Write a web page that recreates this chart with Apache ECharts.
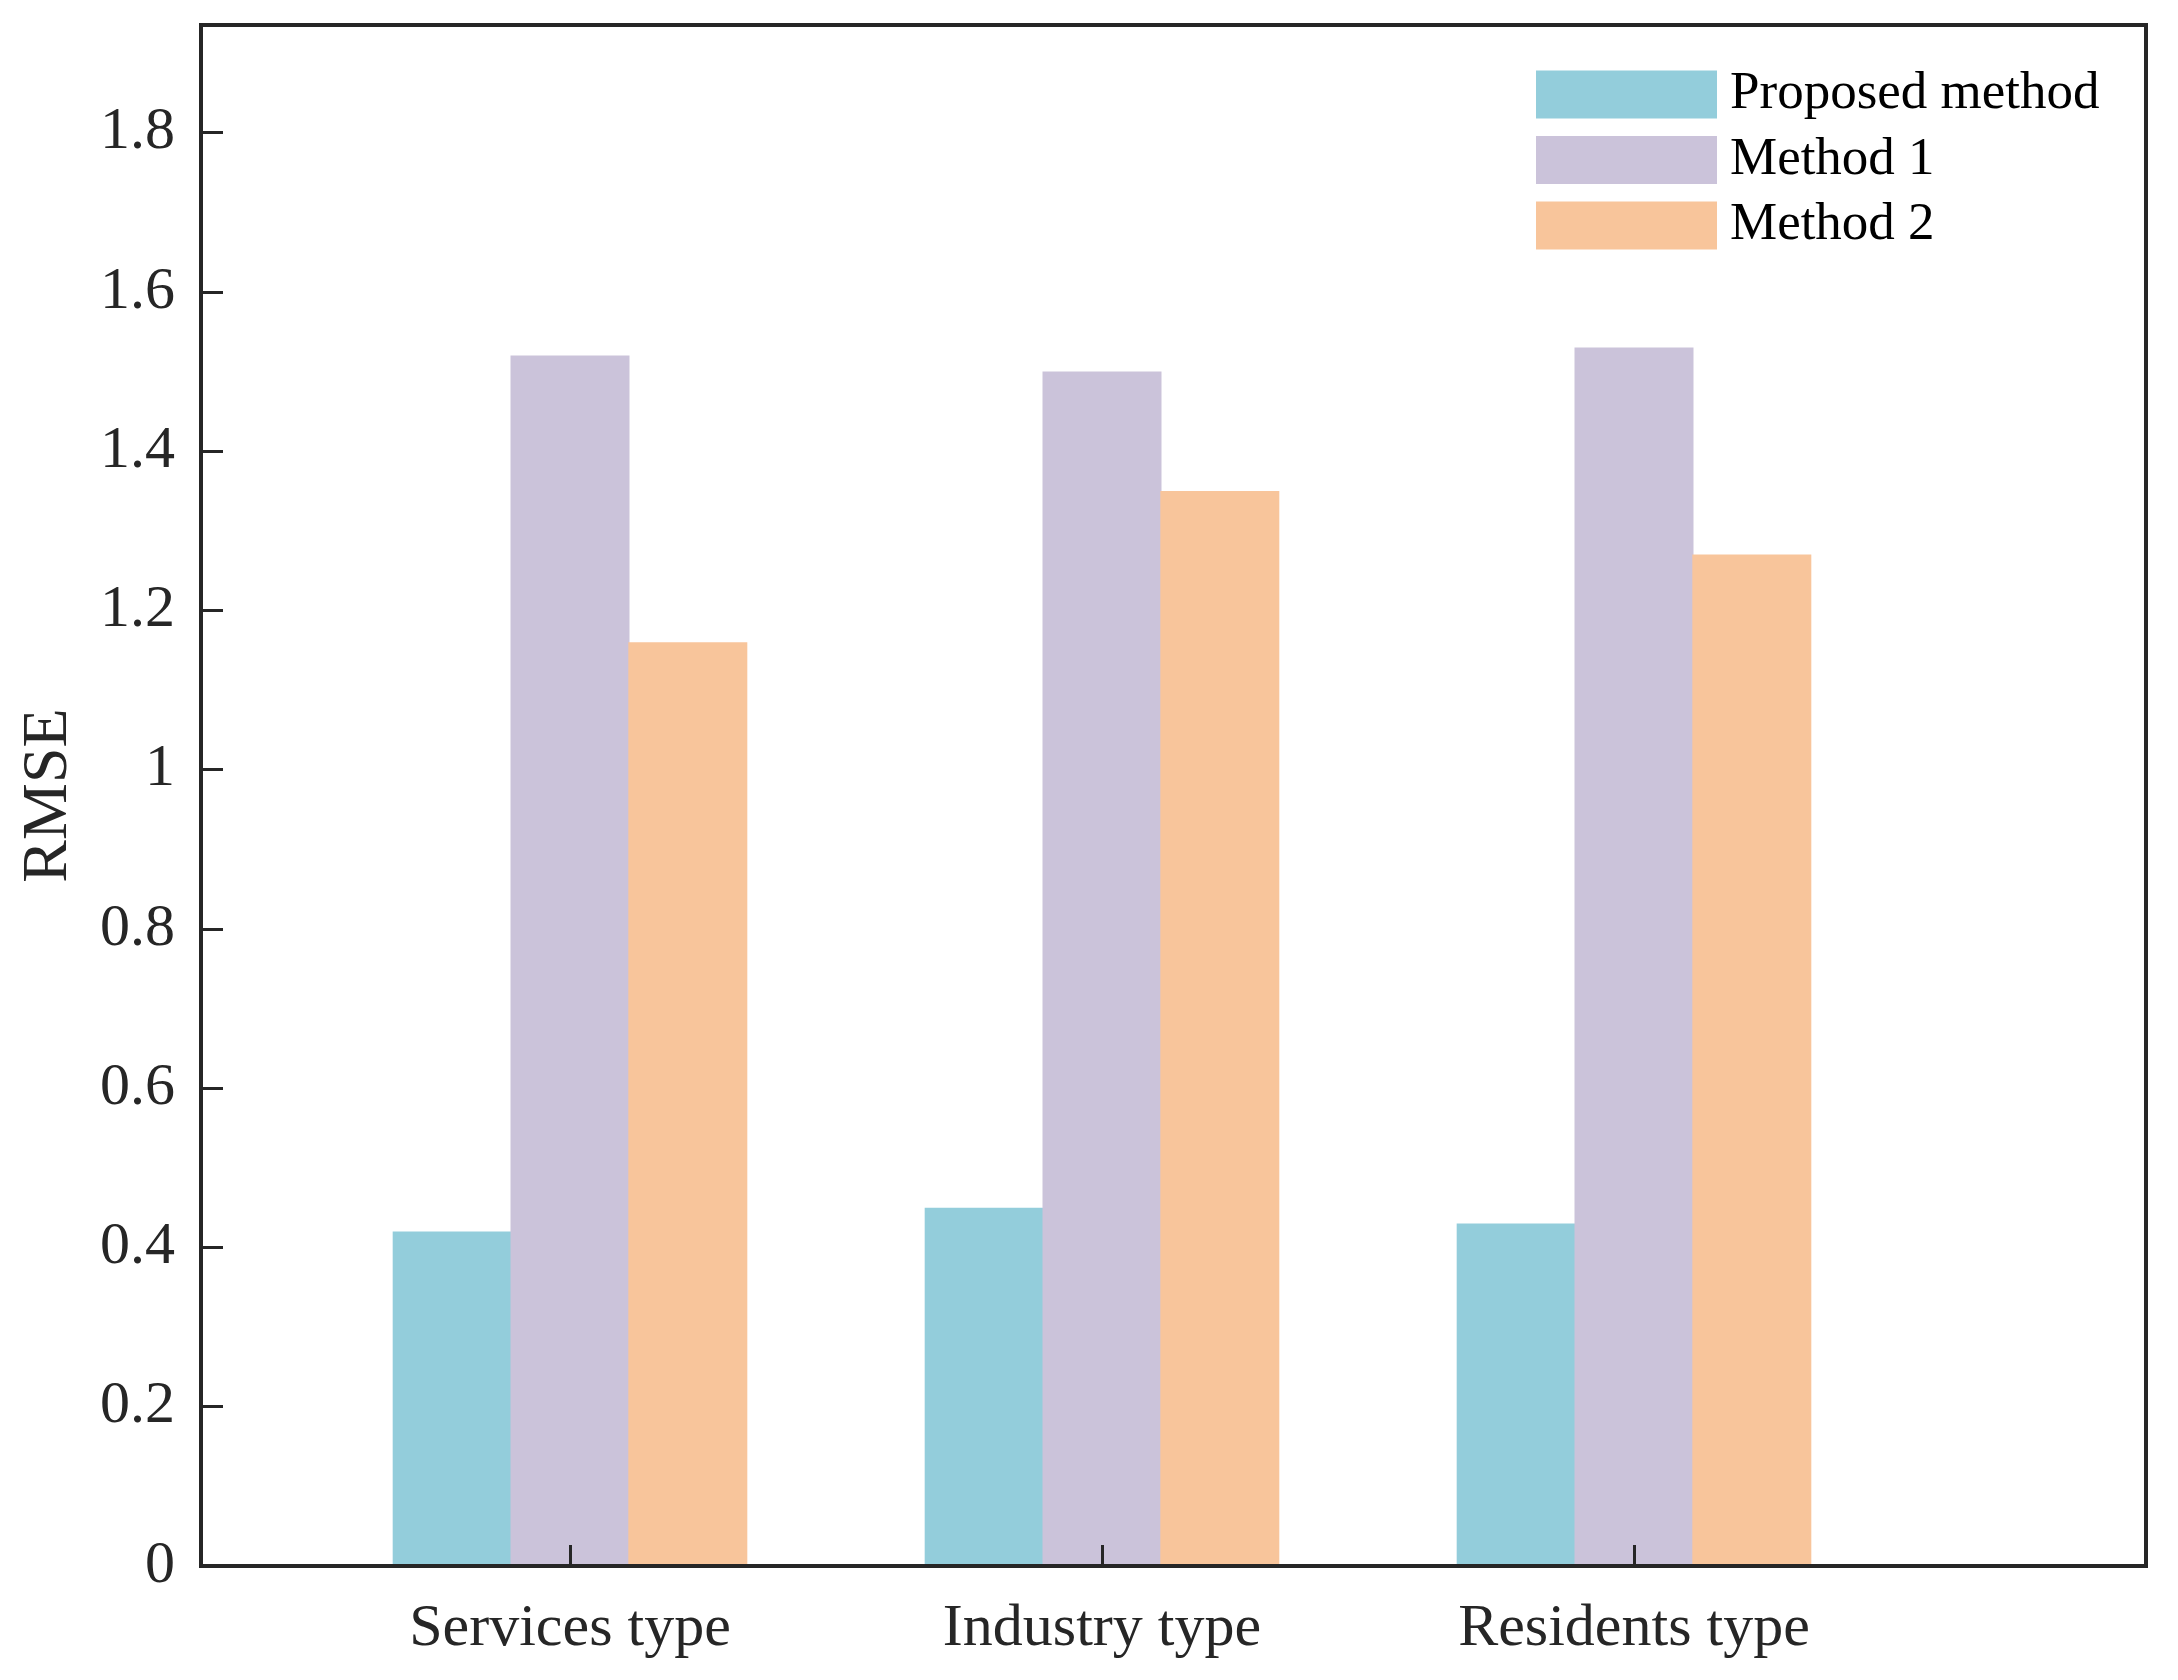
<!DOCTYPE html>
<html>
<head>
<meta charset="utf-8">
<script src="https://cdn.jsdelivr.net/npm/echarts@6/dist/echarts.min.js"></script>
<style>html,body{margin:0;padding:0;background:#fff;}#c{width:2178px;height:1680px;}</style>
</head>
<body>
<div id="c"></div>
<script>
var categories = ['Services type', 'Industry type', 'Residents type'];
var seriesNames = ['Proposed method', 'Method 1', 'Method 2'];
var proposed = [0.42, 0.45, 0.43];
var method1 = [1.52, 1.50, 1.53];
var method2 = [1.16, 1.35, 1.27];
var colors = ['#93CDDB', '#CBC3DA', '#F8C59B'];

var FONT = 'Liberation Serif';
var TXT = '#262626';
var YMAX = 1.935;

var chart = echarts.init(document.getElementById('c'), null, {renderer: 'canvas'});
var seriesData = [proposed, method1, method2];
chart.setOption({
  backgroundColor: '#ffffff',
  animation: false,
  textStyle: {fontFamily: FONT},
  legend: {
    orient: 'vertical',
    left: 1536, top: 68, padding: 0,
    itemWidth: 181, itemHeight: 48, itemGap: 12.5,
    icon: 'rect',
    data: seriesNames,
    textStyle: {fontFamily: FONT, fontSize: 53, color: '#000', padding: [0, 0, 0, 8]}
  },
  grid: [
    {left: 201, right: 32, top: 25, bottom: 114, show: true, borderColor: TXT, borderWidth: 4, backgroundColor: 'transparent'},
    {left: 304, right: 278, top: 25, bottom: 114}
  ],
  xAxis: [
    {gridIndex: 0, type: 'value', min: 0, max: 1, show: true,
     axisLine: {show: true, lineStyle: {color: TXT, width: 4}},
     axisTick: {show: false}, axisLabel: {show: false}, splitLine: {show: false}, z: 10},
    {gridIndex: 1, type: 'category', data: categories, boundaryGap: true,
     axisLine: {show: false},
     axisTick: {show: true, alignWithLabel: true, inside: true, length: 21, lineStyle: {color: TXT, width: 3}},
     axisLabel: {fontFamily: FONT, fontSize: 60, color: TXT, margin: 33},
     splitLine: {show: false}, z: 10}
  ],
  yAxis: [
    {gridIndex: 0, type: 'value', min: 0, max: YMAX, interval: 0.2,
     name: 'RMSE', nameLocation: 'middle', nameGap: 120,
     nameTextStyle: {fontFamily: FONT, fontSize: 64, color: TXT},
     axisLine: {show: true, lineStyle: {color: TXT, width: 4}},
     axisTick: {show: true, inside: true, length: 22, lineStyle: {color: TXT, width: 3}},
     axisLabel: {fontFamily: FONT, fontSize: 60, color: TXT, margin: 26, showMaxLabel: false,
       formatter: function (v) { return String(Math.round(v * 10) / 10); }},
     splitLine: {show: false}, z: 10},
    {gridIndex: 1, type: 'value', min: 0, max: YMAX, show: false, splitLine: {show: false}}
  ],
  series: seriesNames.map(function (n, i) {
    return {
      name: n, type: 'bar', xAxisIndex: 1, yAxisIndex: 1,
      data: seriesData[i], barWidth: 119, barGap: '-1%',
      itemStyle: {color: colors[i]}, z: 2
    };
  })
});
</script>
</body>
</html>
